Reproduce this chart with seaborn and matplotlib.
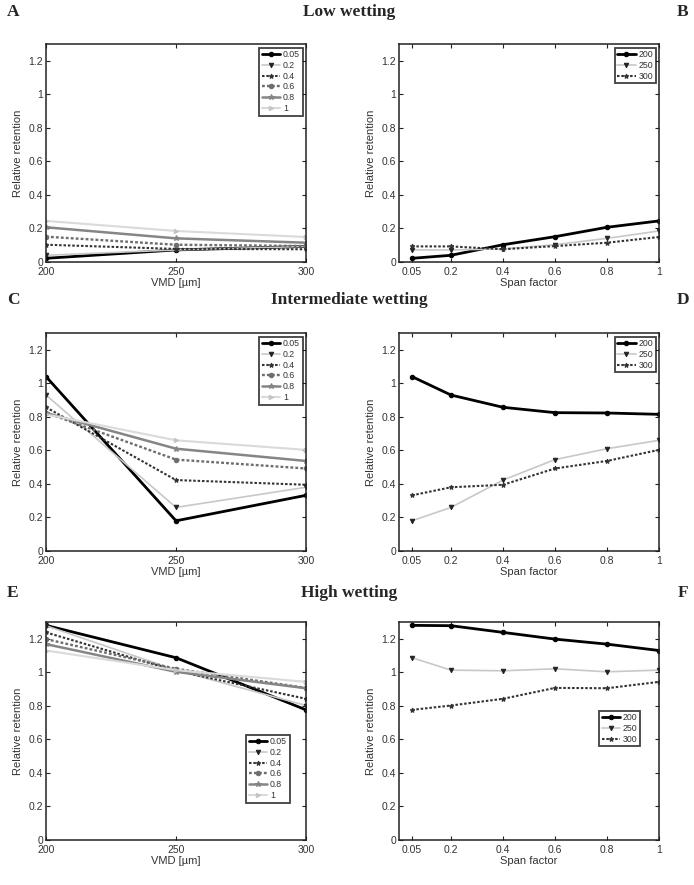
import numpy as np
import pandas as pd
import matplotlib
matplotlib.use("Agg")
import matplotlib.pyplot as plt
import seaborn as sns

# ---------------- data ----------------
span_factors = [0.05, 0.2, 0.4, 0.6, 0.8, 1.0]
span_labels = ["0.05", "0.2", "0.4", "0.6", "0.8", "1"]
vmds = [200, 250, 300]
vmd_labels = ["200", "250", "300"]
wetting_titles = ["Low wetting", "Intermediate wetting", "High wetting"]
panel_letters = [("A", "B"), ("C", "D"), ("E", "F")]

# relative retention, rows = VMD (200, 250, 300), cols = span factor
low_200 = [0.022, 0.040, 0.103, 0.151, 0.207, 0.245]
low_250 = [0.072, 0.072, 0.078, 0.103, 0.141, 0.185]
low_300 = [0.093, 0.093, 0.076, 0.095, 0.115, 0.149]

int_200 = [1.040, 0.930, 0.857, 0.825, 0.823, 0.815]
int_250 = [0.180, 0.260, 0.423, 0.545, 0.610, 0.660]
int_300 = [0.332, 0.380, 0.395, 0.492, 0.537, 0.603]

high_200 = [1.280, 1.278, 1.238, 1.198, 1.168, 1.130]
high_250 = [1.087, 1.013, 1.009, 1.021, 1.003, 1.013]
high_300 = [0.776, 0.802, 0.842, 0.907, 0.905, 0.943]

ytick_vals = [0, 0.2, 0.4, 0.6, 0.8, 1.0, 1.2]
ytick_labels = ["0", "0.2", "0.4", "0.6", "0.8", "1", "1.2"]

datasets = [
    [low_200, low_250, low_300],
    [int_200, int_250, int_300],
    [high_200, high_250, high_300],
]

# ---------------- styles ----------------
DOT = (0, (1.2, 0.9))
span_styles = [
    dict(color="#000000", ls="-", lw=2.0, marker="o", ms=3.2, mfc="#000000", mec="#000000"),
    dict(color="#c8c8c8", ls="-", lw=1.2, marker="v", ms=3.2, mfc="#222222", mec="#222222"),
    dict(color="#333333", ls=DOT, lw=1.5, marker="*", ms=3.5, mfc="#333333", mec="#333333"),
    dict(color="#6e6e6e", ls=DOT, lw=1.7, marker="o", ms=3.2, mfc="#6e6e6e", mec="#6e6e6e"),
    dict(color="#858585", ls="-", lw=1.8, marker="*", ms=4, mfc="#858585", mec="#858585"),
    dict(color="#dadada", ls="-", lw=1.5, marker=">", ms=3.2, mfc="#c4c4c4", mec="#c4c4c4"),
]
vmd_styles = [
    dict(color="#000000", ls="-", lw=2.0, marker="o", ms=3.2, mfc="#000000", mec="#000000"),
    dict(color="#c8c8c8", ls="-", lw=1.2, marker="v", ms=3.2, mfc="#222222", mec="#222222"),
    dict(color="#333333", ls=DOT, lw=1.5, marker="*", ms=3.5, mfc="#333333", mec="#333333"),
]

sns.set_theme(style="white")
plt.rcParams["font.family"] = ["Liberation Sans", "DejaVu Sans"]

fig = plt.figure(figsize=(6.94, 8.85), dpi=100)

W, H = 694.0, 885.0
ax_w = 260 / W
ax_h = 218 / H
lefts = [46 / W, 399 / W]
tops = [44, 333, 622]

legend_locs_left = [("upper right", (1.0, 1.0)), ("upper right", (1.0, 1.0)), ("upper right", (0.95, 0.50))]
legend_locs_right = [("upper right", (1.0, 1.0)), ("upper right", (1.0, 1.0)), ("upper right", (0.94, 0.61))]
title_y = [12, 300, 593]


def style_axes(ax):
    ax.set_ylim(0, 1.3)
    ax.set_yticks(ytick_vals)
    ax.set_yticklabels(ytick_labels)
    for sp in ax.spines.values():
        sp.set_visible(True)
        sp.set_color("#222222")
        sp.set_linewidth(1.1)
    ax.tick_params(direction="in", length=3, width=0.8, colors="#222222",
                   labelsize=7.5, labelcolor="#333333", top=True, right=True,
                   bottom=True, left=True)
    ax.tick_params(axis="y", pad=2)
    ax.tick_params(axis="x", pad=3.5)
    ax.set_ylabel("Relative retention", fontsize=8, color="#333333", labelpad=4)
    ax.grid(False)
    ax.set_facecolor("white")


def add_legend(ax, loc, anchor):
    leg = ax.legend(loc=loc, bbox_to_anchor=anchor, fontsize=6.3, frameon=True,
                    fancybox=False, handlelength=2.1, handletextpad=0.3,
                    borderpad=0.3, labelspacing=0.2, borderaxespad=0.4)
    leg.get_frame().set_edgecolor("#111111")
    leg.get_frame().set_linewidth(1.3)
    for t in leg.get_texts():
        t.set_color("#333333")


for r in range(3):
    bottom = 1 - (tops[r] + 218) / H
    rows = datasets[r]

    # left panel: x = VMD, one line per span factor
    axL = fig.add_axes([lefts[0], bottom, ax_w, ax_h])
    for j, lab in enumerate(span_labels):
        vals = [rows[i][j] for i in range(3)]
        df = pd.DataFrame({"vmd": vmds, "ret": vals})
        st = span_styles[j]
        sns.lineplot(data=df, x="vmd", y="ret", ax=axL, color=st["color"],
                     linestyle=st["ls"], linewidth=st["lw"], marker=st["marker"],
                     markersize=st["ms"], markerfacecolor=st["mfc"],
                     markeredgecolor=st["mec"], label=lab)
    axL.set_xlim(200, 300)
    axL.set_xticks(vmds)
    axL.set_xticklabels(vmd_labels)
    axL.set_xlabel("VMD [µm]", fontsize=8, color="#333333", labelpad=1)
    style_axes(axL)
    add_legend(axL, *legend_locs_left[r])

    # right panel: x = span factor, one line per VMD
    axR = fig.add_axes([lefts[1], bottom, ax_w, ax_h])
    for i, lab in enumerate(vmd_labels):
        df = pd.DataFrame({"span": span_factors, "ret": rows[i]})
        st = vmd_styles[i]
        sns.lineplot(data=df, x="span", y="ret", ax=axR, color=st["color"],
                     linestyle=st["ls"], linewidth=st["lw"], marker=st["marker"],
                     markersize=st["ms"], markerfacecolor=st["mfc"],
                     markeredgecolor=st["mec"], label=lab)
    axR.set_xlim(0, 1)
    axR.set_xticks(span_factors)
    axR.set_xticklabels(span_labels)
    axR.set_xlabel("Span factor", fontsize=8, color="#333333", labelpad=1)
    style_axes(axR)
    add_legend(axR, *legend_locs_right[r])

    # titles and panel letters
    ty = 1 - title_y[r] / H
    fig.text(349 / W, ty, wetting_titles[r], ha="center", va="center",
             fontsize=12.5, fontweight="bold", family=["Liberation Serif", "DejaVu Serif"])
    fig.text(13 / W, ty, panel_letters[r][0], ha="center", va="center",
             fontsize=12.5, fontweight="bold", family=["Liberation Serif", "DejaVu Serif"])
    fig.text(683 / W, ty, panel_letters[r][1], ha="center", va="center",
             fontsize=12.5, fontweight="bold", family=["Liberation Serif", "DejaVu Serif"])

fig.savefig("out.png", dpi=100, facecolor="white")
